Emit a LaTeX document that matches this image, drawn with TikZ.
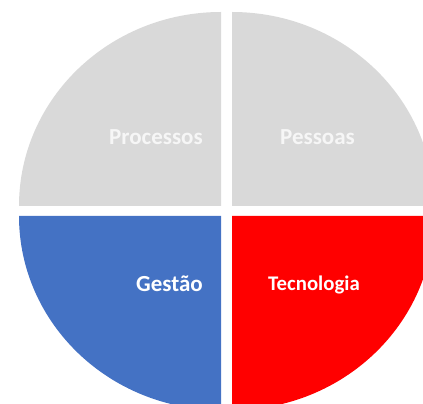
\documentclass[tikz,border=0pt]{standalone}
\usepackage{fontspec}
\setmainfont{Carlito}
\definecolor{qgray}{HTML}{D9D9D9}
\definecolor{qblue}{HTML}{4472C4}
\definecolor{qred}{HTML}{FF0000}
\definecolor{qtxt}{HTML}{F6F6F6}
\begin{document}
\begin{tikzpicture}[x=1pt,y=1pt,
  lbl/.style={inner sep=0pt,font=\bfseries\fontsize{23}{26}\selectfont,text=white}]
\useasboundingbox (0,0) rectangle (423,404);
\clip (0,0) rectangle (423,404);
% quadrants
\fill[qgray] (221,198) -- (19,198) arc[start angle=180,end angle=90,x radius=202,y radius=194] -- cycle;
\fill[qgray] (232,198) -- (434,198) arc[start angle=0,end angle=90,x radius=202,y radius=194] -- cycle;
\fill[qblue] (221,188) -- (19,188) arc[start angle=180,end angle=270,x radius=202,y radius=194] -- cycle;
\fill[qred] (232,188) -- (232,-6) arc[start angle=270,end angle=360,x radius=202,y radius=194] -- cycle;
% labels
\node[lbl,text=qtxt,anchor=base east] (proc) at (203,259) {Processos};
\node[lbl,text=qtxt,anchor=base west] (pess) at (280,259) {Pessoas};
\node[lbl,anchor=base east] (gest) at (203,112.5) {Gestão};
\node[lbl,font=\bfseries\fontsize{20.8}{24}\selectfont,anchor=base west] (tecn) at (268,113) {Tecnologia};
\end{tikzpicture}
\end{document}
